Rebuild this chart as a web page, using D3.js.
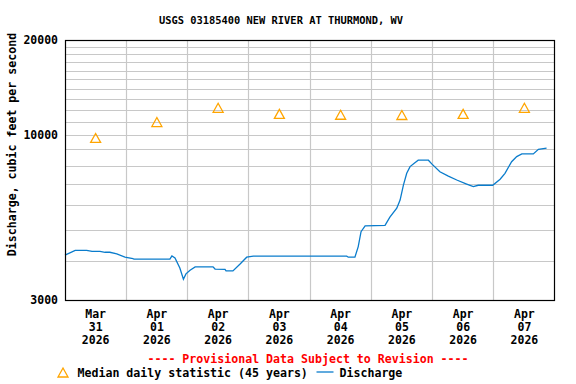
<!DOCTYPE html>
<html>
<head>
<meta charset="utf-8">
<script src="https://cdn.jsdelivr.net/npm/d3@7"></script>
<style>
body { margin: 0; background: #fff; }
text { font-family: "DejaVu Sans Mono", monospace; font-weight: bold; }
</style>
</head>
<body>
<div id="chart"></div>
<script>
var title = "USGS 03185400 NEW RIVER AT THURMOND, WV";
var startDate = "2026-03-31T00:00Z";
var endDate = "2026-04-08T00:00Z";
var dayMonths = ["Mar", "Apr", "Apr", "Apr", "Apr", "Apr", "Apr", "Apr"];
var dayNums = ["31", "01", "02", "03", "04", "05", "06", "07"];
var dayYears = ["2026", "2026", "2026", "2026", "2026", "2026", "2026", "2026"];
var yTickValues = [3000, 10000, 20000];
var yGridValues = [4000, 5000, 6000, 7000, 8000, 9000, 10000, 11000, 12000, 13000,
                   14000, 15000, 16000, 17000, 18000, 19000];

// median daily statistic, one per day (at noon)
var medianValues = [9750, 10950, 12150, 11620, 11550, 11530, 11620, 12150];

// discharge, hours since Mar 31 00:00 and cfs
var dischargeHours = [0, 4, 8.5, 10.6, 13.7, 15.7, 17.6, 20.3, 23.5, 26.6, 27, 41.1, 41.9, 43.1,
    45, 46.4, 47.4, 49, 51, 58, 58.8, 62.7, 63.1, 65.8, 68.6, 71.2, 73.8, 110.4, 111, 113.6,
    114.9, 116, 117.6, 125.4, 127.3, 130, 131.3, 132.6, 133.9, 135.2, 137.1, 138.4, 142.4,
    143.7, 146.9, 150.2, 153.5, 157.4, 160, 161.9, 167.6, 170.5, 172.4, 175, 177, 179, 183.5,
    185.5, 188.7];
var dischargeCfs = [4160, 4310, 4310, 4280, 4280, 4250, 4250, 4200, 4100, 4060, 4040, 4040, 4140, 4080,
    3790, 3490, 3630, 3730, 3820, 3820, 3760, 3750, 3710, 3710, 3900, 4100, 4130, 4130, 4100, 4100,
    4430, 4940, 5150, 5170, 5490, 5860, 6220, 6940, 7560, 7940, 8170, 8320, 8320,
    8100, 7650, 7410, 7200, 6990, 6860, 6930, 6930, 7240, 7560, 8230, 8540, 8710, 8710,
    9010, 9080];

var width = 576, height = 384;
var margin = {top: 40, right: 21, bottom: 84, left: 65};
var plotW = width - margin.left - margin.right,
    plotH = height - margin.top - margin.bottom;

var svg = d3.select("#chart").append("svg")
    .attr("width", width)
    .attr("height", height);

var t0 = new Date(startDate), t1 = new Date(endDate);
var x = d3.scaleUtc().domain([t0, t1]).range([margin.left, margin.left + plotW]);
var y = d3.scaleLog().domain([3000, 20000]).range([margin.top + plotH, margin.top]);

function hoursToDate(h) { return new Date(t0.getTime() + h * 3600000); }

// grid
var days = d3.utcDay.range(d3.utcDay.offset(t0, 1), t1);
svg.append("g").selectAll("line").data(days).enter()
    .append("line")
    .attr("x1", function(d) { return Math.floor(x(d)) + 0.5; })
    .attr("x2", function(d) { return Math.floor(x(d)) + 0.5; })
    .attr("y1", margin.top)
    .attr("y2", margin.top + plotH)
    .attr("stroke", "#c8c8c8")
    .attr("stroke-width", 1.2);

svg.append("g").selectAll("line").data(yGridValues).enter()
    .append("line")
    .attr("x1", margin.left)
    .attr("x2", margin.left + plotW)
    .attr("y1", function(d) { return Math.round(y(d)) + 0.5; })
    .attr("y2", function(d) { return Math.round(y(d)) + 0.5; })
    .attr("stroke", "#c8c8c8")
    .attr("stroke-width", 1.2);

// discharge line
var line = d3.line()
    .x(function(d, i) { return x(hoursToDate(dischargeHours[i])); })
    .y(function(d) { return y(d); });
svg.append("path")
    .datum(dischargeCfs)
    .attr("fill", "none")
    .attr("stroke", "#0a7ccc")
    .attr("stroke-width", 1.3)
    .attr("d", line);

// median triangles
var tri = "M0,-5 L5,4 L-5,4 Z";
svg.append("g").selectAll("path").data(medianValues).enter()
    .append("path")
    .attr("d", tri)
    .attr("transform", function(d, i) {
        return "translate(" + x(d3.utcHour.offset(d3.utcDay.offset(t0, i), 12)) + "," + y(d) + ")";
    })
    .attr("fill", "none")
    .attr("stroke", "#ffa500")
    .attr("stroke-width", 1.3);

// frame
svg.append("rect")
    .attr("x", margin.left + 0.5)
    .attr("y", margin.top + 0.5)
    .attr("width", plotW - 1)
    .attr("height", plotH)
    .attr("fill", "none")
    .attr("stroke", "#000")
    .attr("stroke-width", 1.2);

// y tick labels
svg.append("g").selectAll("text").data(yTickValues).enter()
    .append("text")
    .attr("x", 58)
    .attr("y", function(d) { return y(d) + 4; })
    .attr("text-anchor", "end")
    .attr("font-size", "11.5px")
    .text(function(d) { return d; });

// x tick labels
var labelGroup = svg.append("g").selectAll("text").data(d3.range(dayMonths.length)).enter()
    .append("text")
    .attr("text-anchor", "middle")
    .attr("font-size", "11.5px")
    .attr("transform", function(i) {
        return "translate(" + x(d3.utcHour.offset(d3.utcDay.offset(t0, i), 12)) + ",0)";
    });
labelGroup.append("tspan").attr("x", 0).attr("y", 318).text(function(i) { return dayMonths[i]; });
labelGroup.append("tspan").attr("x", 0).attr("y", 331).text(function(i) { return dayNums[i]; });
labelGroup.append("tspan").attr("x", 0).attr("y", 344).text(function(i) { return dayYears[i]; });

// title
svg.append("text")
    .attr("x", 281)
    .attr("y", 23.5)
    .attr("text-anchor", "middle")
    .attr("font-size", "10.4px")
    .text(title);

// y axis label
svg.append("text")
    .attr("transform", "translate(16,144.5) rotate(-90)")
    .attr("text-anchor", "middle")
    .attr("font-size", "11.6px")
    .text("Discharge, cubic feet per second");

// provisional note
svg.append("text")
    .attr("x", 308)
    .attr("y", 362.5)
    .attr("text-anchor", "middle")
    .attr("font-size", "11.6px")
    .attr("fill", "#ff0000")
    .text("---- Provisional Data Subject to Revision ----");

// legend
svg.append("path")
    .attr("d", tri)
    .attr("transform", "translate(63,373)")
    .attr("fill", "none")
    .attr("stroke", "#ffa500")
    .attr("stroke-width", 1.3);
svg.append("text")
    .attr("x", 77.5)
    .attr("y", 376.5)
    .attr("font-size", "11.6px")
    .text("Median daily statistic (45 years)");
svg.append("line")
    .attr("x1", 316.5).attr("x2", 333.5)
    .attr("y1", 372).attr("y2", 372)
    .attr("stroke", "#0a7ccc")
    .attr("stroke-width", 1.3);
svg.append("text")
    .attr("x", 339.5)
    .attr("y", 376.5)
    .attr("font-size", "11.6px")
    .text("Discharge");
</script>
</body>
</html>
